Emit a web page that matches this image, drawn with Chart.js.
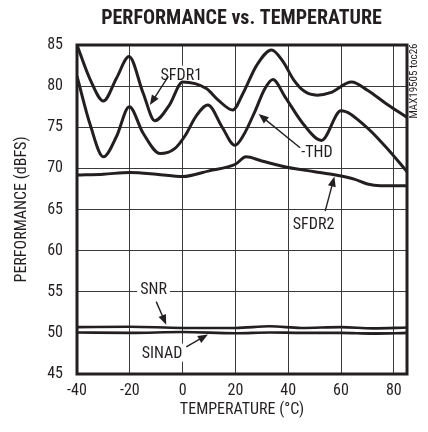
<!DOCTYPE html>
<html>
<head>
<meta charset="utf-8">
<script src="https://cdn.jsdelivr.net/npm/chart.js@4/dist/chart.umd.min.js"></script>
<style>
  body { margin: 0; background: #fff; }
  canvas { display: block; }
</style>
</head>
<body>
<canvas id="graph" width="428" height="432"></canvas>
<script>
// temperature sweep, one x list per curve (points at the turning points)
const sfdr1Temp = [-40, -35, -30, -25, -20.3, -15, -10.5, -5, 0, 9, 13.5, 19, 23, 28, 33.7, 38, 42, 46, 51, 56, 64, 70, 77, 85];
const sfdr1Vals = [85, 80.8, 78.2, 81.0, 83.6, 79.2, 75.8, 77.7, 80.5, 79.7, 78.3, 77.1, 79.2, 82.5, 84.4, 83.0, 80.8, 79.4, 78.9, 79.2, 80.5, 79.5, 77.9, 76.2];

const thdTemp = [-40, -35, -30, -25, -20.2, -15, -8.5, -3, 1, 5, 9.6, 15, 19.8, 23, 27.5, 31, 34.2, 38.8, 45.7, 52.6, 60, 69, 77, 85];
const thdVals = [81.2, 75.3, 71.4, 73.9, 77.5, 74.3, 71.8, 72.4, 74.0, 76.3, 77.7, 75.0, 72.8, 74.0, 77.0, 79.6, 80.8, 78.7, 75.4, 73.4, 77.0, 75.2, 72.6, 69.6];

const sfdr2Temp = [-40, -30, -20, -10, 0, 10, 20, 24, 30, 40, 50, 58, 65, 70, 75, 85];
const sfdr2Vals = [69.2, 69.3, 69.5, 69.3, 69.0, 69.7, 70.5, 71.4, 70.9, 70.1, 69.6, 69.2, 68.7, 68.1, 67.9, 67.9];

const noiseTemp = [-40, -20, 0, 20, 33, 45, 60, 72, 85];
const snrVals = [50.7, 50.75, 50.6, 50.6, 50.8, 50.6, 50.7, 50.55, 50.65];
const sinadVals = [50.05, 50.0, 50.1, 49.95, 50.05, 50.0, 50.0, 49.9, 50.0];

const xTicks = [-40, -20, 0, 20, 40, 60, 80];

// curve labels and their pointer arrows, in temperature / dBFS units
const curveLabels = [
  { text: 'SFDR1', x: -0.5, y: 81.4 },
  { text: '-THD', x: 50.9, y: 72.0 },
  { text: 'SFDR2', x: 49.6, y: 63.2 },
  { text: 'SNR', x: -11, y: 55.35 },
  { text: 'SINAD', x: -7.8, y: 47.6 }
];
const curveArrows = [
  { from: [-5.4, 81.2], to: [-12.4, 77.7] },
  { from: [44.5, 72.5], to: [28.8, 76.6] },
  { from: [54, 64.8], to: [57.5, 69.0] },
  { from: [-10, 53.8], to: [-6.2, 51.0] },
  { from: [1.4, 48.3], to: [9.6, 49.8] }
];

const INK = '#231f20';
const FONT = '"Liberation Sans Narrow", "Roboto Condensed", "DejaVu Sans Condensed", "Liberation Sans", sans-serif';
Chart.defaults.font.family = FONT;
Chart.defaults.color = INK;

function pts(xs, ys) {
  return xs.map((x, i) => ({ x: x, y: ys[i] }));
}

function curve(label, xs, ys, width) {
  return {
    label: label,
    data: pts(xs, ys),
    borderColor: INK,
    borderWidth: width,
    pointRadius: 0,
    cubicInterpolationMode: 'monotone',
    fill: false
  };
}

function arrow(ctx, x1, y1, x2, y2) {
  const a = Math.atan2(y2 - y1, x2 - x1);
  const len = 10, half = 4;
  ctx.beginPath();
  ctx.moveTo(x1, y1);
  ctx.lineTo(x2 - Math.cos(a) * len * 0.8, y2 - Math.sin(a) * len * 0.8);
  ctx.stroke();
  ctx.beginPath();
  ctx.moveTo(x2, y2);
  ctx.lineTo(x2 - Math.cos(a) * len + Math.sin(a) * half, y2 - Math.sin(a) * len - Math.cos(a) * half);
  ctx.lineTo(x2 - Math.cos(a) * len - Math.sin(a) * half, y2 - Math.sin(a) * len + Math.cos(a) * half);
  ctx.closePath();
  ctx.fill();
}

// curve names sit on white patches over the grid, under the curves
const labelsLayer = {
  id: 'labelsLayer',
  beforeDatasetsDraw(chart) {
    const ctx = chart.ctx;
    const xs = chart.scales.x, ys = chart.scales.y;
    ctx.save();
    ctx.font = '16px ' + FONT;
    ctx.textAlign = 'center';
    ctx.textBaseline = 'middle';
    curveLabels.forEach(l => {
      const px = xs.getPixelForValue(l.x);
      const py = ys.getPixelForValue(l.y);
      const w = ctx.measureText(l.text).width;
      ctx.fillStyle = '#fff';
      ctx.fillRect(px - w / 2 - 3, py - 9, w + 6, 18);
      ctx.fillStyle = INK;
      ctx.fillText(l.text, px, py + 1);
    });
    ctx.restore();
  }
};

// frame, heading and arrows on top of the curves
const extras = {
  id: 'extras',
  afterDatasetsDraw(chart) {
    const ctx = chart.ctx;
    const area = chart.chartArea;
    const xs = chart.scales.x, ys = chart.scales.y;
    ctx.save();

    ctx.strokeStyle = INK;
    ctx.lineWidth = 3;
    ctx.strokeRect(area.left, area.top, area.right - area.left, area.bottom - area.top);

    ctx.fillStyle = INK;
    ctx.font = 'bold 20px ' + FONT;
    ctx.textAlign = 'center';
    ctx.textBaseline = 'middle';
    ctx.fillText('PERFORMANCE vs. TEMPERATURE', 241.5, 19);

    ctx.lineWidth = 1.4;
    curveArrows.forEach(a => {
      arrow(ctx,
        xs.getPixelForValue(a.from[0]), ys.getPixelForValue(a.from[1]),
        xs.getPixelForValue(a.to[0]), ys.getPixelForValue(a.to[1]));
    });

    // part number, rotated along the right edge
    ctx.translate(414.5, 81);
    ctx.rotate(-Math.PI / 2);
    ctx.font = '11px ' + FONT;
    ctx.fillText('MAX19505 toc26', 0, 0);
    ctx.restore();
  }
};

new Chart(document.getElementById('graph'), {
  type: 'line',
  data: {
    datasets: [
      curve('SFDR1', sfdr1Temp, sfdr1Vals, 3),
      curve('-THD', thdTemp, thdVals, 3),
      curve('SFDR2', sfdr2Temp, sfdr2Vals, 3),
      curve('SNR', noiseTemp, snrVals, 2.6),
      curve('SINAD', noiseTemp, sinadVals, 2.6)
    ]
  },
  options: {
    responsive: false,
    animation: false,
    layout: { padding: { top: 45, right: 21, left: 0, bottom: 0 } },
    plugins: {
      legend: { display: false },
      tooltip: { enabled: false }
    },
    scales: {
      x: {
        type: 'linear',
        min: -40,
        max: 85,
        afterBuildTicks: s => { s.ticks = xTicks.map(v => ({ value: v })); },
        afterFit: s => { s.height = 58; },
        grid: { color: '#3a3a3a', lineWidth: 1, drawTicks: false },
        border: { display: false },
        ticks: { padding: 7, font: { size: 16 }, maxRotation: 0 },
        title: { display: true, text: 'TEMPERATURE (°C)', font: { size: 16 }, padding: { top: 12, bottom: 12 } }
      },
      y: {
        min: 45,
        max: 85,
        afterFit: s => { s.width = 77; },
        grid: { color: '#3a3a3a', lineWidth: 1, drawTicks: false },
        border: { display: false },
        ticks: { stepSize: 5, padding: 14, font: { size: 16 } },
        title: { display: true, text: 'PERFORMANCE (dBFS)', font: { size: 16 }, padding: { top: 12, bottom: 12 } }
      }
    }
  },
  plugins: [labelsLayer, extras]
});
</script>
</body>
</html>
